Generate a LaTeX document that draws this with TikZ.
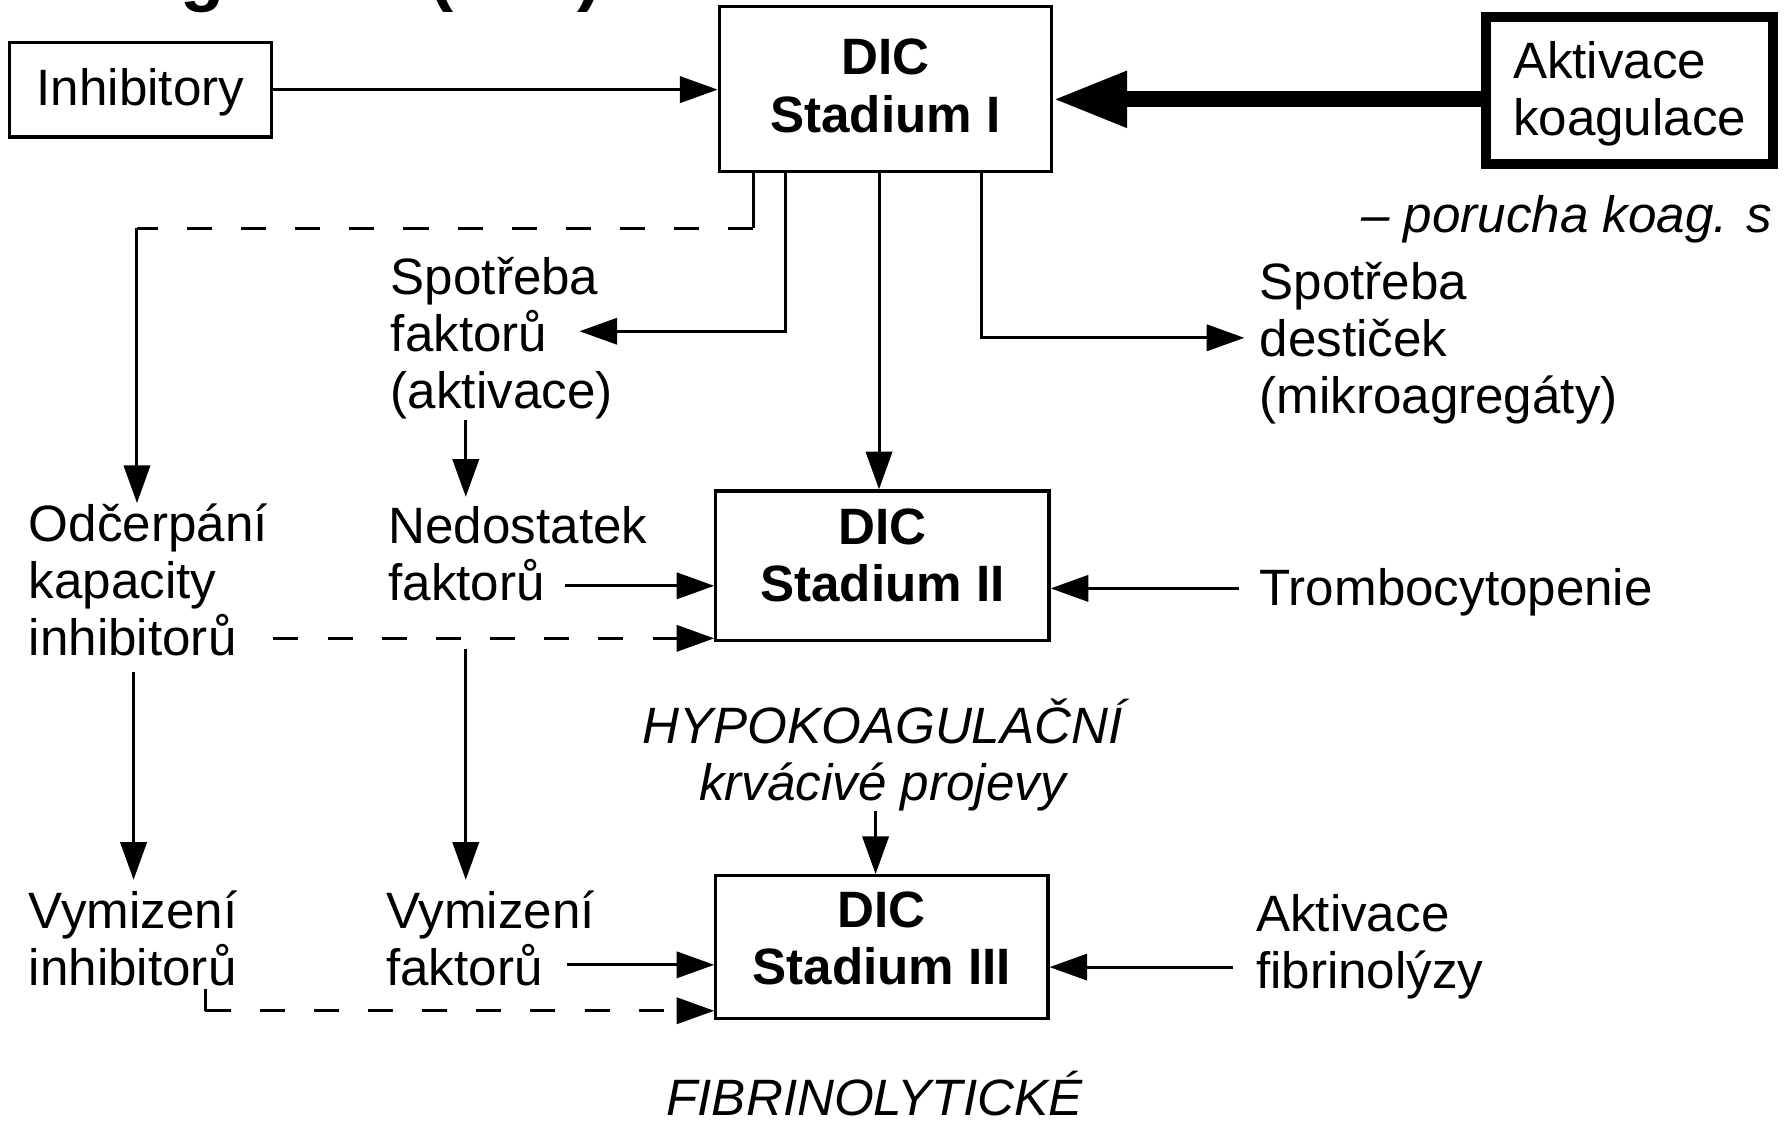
\documentclass[tikz,border=0pt]{standalone}
\usepackage{fontspec}
\setmainfont{Liberation Sans}
\usetikzlibrary{arrows.meta}
\newcommand\fsz{\fontsize{25.5}{28.45}\selectfont}
\begin{document}
\begin{tikzpicture}[x=0.02cm,y=-0.02cm,
  txt/.style={inner sep=0pt, anchor=base west, font=\fsz},
  itxt/.style={inner sep=0pt, anchor=base, align=center, font=\fsz\itshape},
  plainbox/.style={draw, line width=1.6pt, inner sep=0pt, font=\fsz},
  boldbox/.style={draw, line width=1.6pt, inner sep=0pt, align=center, font=\fsz\bfseries},
  ln/.style={line width=1.5pt},
  arr/.style={line width=1.5pt, -{Triangle[length=0.66cm,width=0.46cm]}},
  bigarr/.style={line width=8pt, -{Triangle[length=1.3cm,width=0.92cm]}},
  dsh/.style={dash pattern=on 12.5pt off 14.5pt}]
\useasboundingbox (0,0) rectangle (1568,985);

% cut-off title
\begin{scope}
\clip (0,0) rectangle (1568,985);
\node[anchor=base west, inner sep=0pt, font=\bfseries\fontsize{36}{40}\selectfont] (ttl) at (49,-2) {koagulace (DIC)};
\end{scope}

% boxes
\node[plainbox, minimum width=4.6cm, minimum height=1.66cm, text depth=0.1cm] (inh) at (123,78.5) {Inhibitory};
\node[boldbox, minimum width=5.82cm, minimum height=2.88cm, text depth=0.12cm] (s1) at (775.5,78) {DIC\\Stadium I};
\node[plainbox, line width=5pt, minimum width=5.04cm, minimum height=2.58cm, align=left, text depth=0.06cm] (akt) at (1427.5,79) {Aktivace\\koagulace};
\node[boldbox, minimum width=5.84cm, minimum height=2.62cm, text depth=0.36cm] (s2) at (773,495.5) {DIC\\Stadium II};
\node[boldbox, minimum width=5.82cm, minimum height=2.5cm, text depth=0.3cm] (s3) at (772.5,829.5) {DIC\\Stadium III};

% texts
\node[txt, anchor=base east, font=\fsz\itshape] (por) at (1553,204) {– porucha koag. s};
\node[txt] (sfak1) at (342,258) {Spotřeba};
\node[txt] (sfak2) at (342,308) {faktorů};
\node[txt] (sfak3) at (342,358) {(aktivace)};
\node[txt] (sdes1) at (1103,262) {Spotřeba};
\node[txt] (sdes2) at (1103,312) {destiček};
\node[txt] (sdes3) at (1103,362) {(mikroagregáty)};
\node[txt] (odc1) at (25,474) {Odčerpání};
\node[txt] (odc2) at (25,524) {kapacity};
\node[txt] (odc3) at (25,574) {inhibitorů};
\node[txt] (ned1) at (340,476) {Nedostatek};
\node[txt] (ned2) at (340,526) {faktorů};
\node[txt] (tro) at (1103,530) {Trombocytopenie};
\node[itxt] (hyp) at (773,701) {HYPOKOAGULAČNÍ\\krvácivé projevy};
\node[txt] (vinh1) at (25,813) {Vymizení};
\node[txt] (vinh2) at (25,863) {inhibitorů};
\node[txt] (vfak1) at (338,813) {Vymizení};
\node[txt] (vfak2) at (338,863) {faktorů};
\node[txt] (afib1) at (1100,816) {Aktivace};
\node[txt] (afib2) at (1100,866) {fibrinolýzy};
\node[itxt] (fib) at (766,977) {FIBRINOLYTICKÉ};

% helper coordinates
\coordinate (d1) at (660,200);
\coordinate (d2) at (120,200);
\coordinate (xf) at (688,0);
\coordinate (xs) at (770,0);
\coordinate (xd) at (860,0);
\coordinate (xa) at (408,0);
\coordinate (xi) at (117,0);
\coordinate (xh) at (767,0);
\coordinate (l1) at (180,866);

% connectors
\draw[arr] (inh.east) -- (inh.east -| s1.west);
\draw[bigarr] ([yshift=-0.16cm]akt.west) -- ([yshift=-0.16cm]akt.west -| s1.east);

\draw[ln] (s1.south -| d1) -- (d1);
\draw[ln, dsh] (d1) -- (d2);
\draw[arr] (d2) -- (d2 |- odc1.north);

\draw[arr, shorten >=0.56cm] (s1.south -| xf) |- (sfak2.east);
\draw[arr] (s1.south -| xs) -- (s2.north -| xs);
\draw[arr, shorten >=0.26cm] (s1.south -| xd) |- (sdes2.west);

\draw[arr, shorten >=0.16cm] (sfak3.south -| xa) -- (ned1.north -| xa);
\draw[arr, shorten <=0.34cm] ([yshift=-0.1cm]ned2.east) -- ([yshift=-0.1cm]ned2.east -| s2.west);
\draw[arr, dsh, shorten <=0.64cm] ([yshift=-0.06cm]odc3.east) -- ([yshift=-0.06cm]odc3.east -| s2.west);
\draw[arr, shorten <=0.36cm] ([yshift=0.06cm]tro.west) -- ([yshift=0.06cm]tro.west -| s2.east);

\draw[arr, shorten <=0.28cm, shorten >=0.18cm] (odc3.south -| xi) -- (vinh1.north -| xi);
\draw[arr, shorten <=0.84cm, shorten >=0.18cm] (ned2.south -| xa) -- (vfak1.north -| xa);
\draw[arr] (hyp.south -| xh) -- (s3.north -| xh);

\draw[arr, shorten <=0.42cm] (vfak2.east) -- (vfak2.east -| s3.west);
\coordinate (l2) at ([yshift=0.16cm]s3.south west -| l1);
\draw[ln] (l1) -- (l2);
\draw[arr, dsh] (l2) -- ([yshift=0.16cm]s3.south west);
\draw[arr, shorten <=0.4cm] ([yshift=0.14cm]afib2.west) -- ([yshift=0.14cm]afib2.west -| s3.east);
\end{tikzpicture}
\end{document}
